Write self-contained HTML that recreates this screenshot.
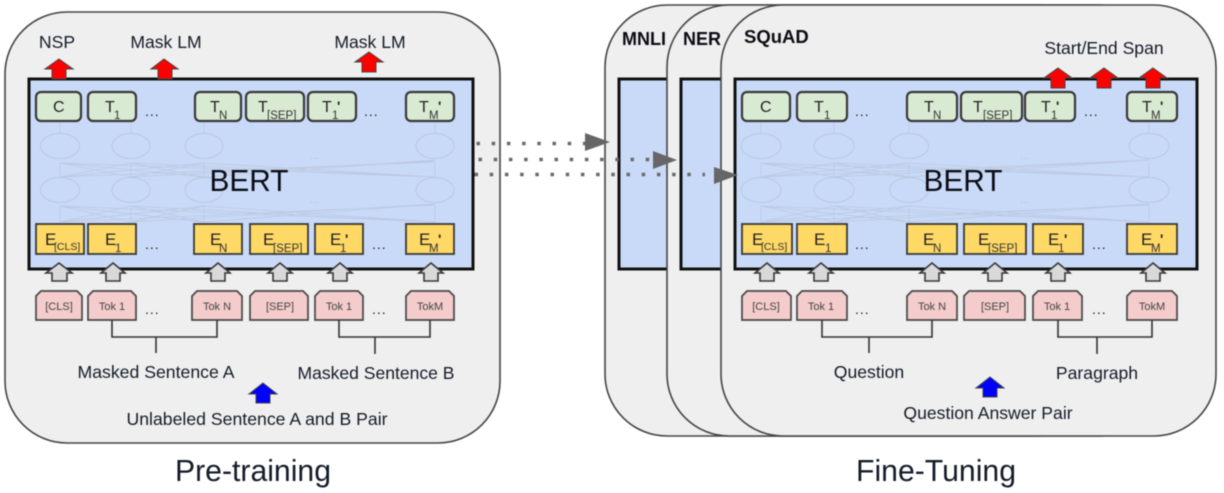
<!DOCTYPE html>
<html>
<head>
<meta charset="utf-8">
<style>
html,body{margin:0;padding:0;background:#fff;width:1224px;height:493px;overflow:hidden}
svg{display:block;filter:blur(0.55px)}
text{font-family:"Liberation Sans",sans-serif;fill:#141c28}
.l{font-size:17.6px;text-anchor:middle}
.t{font-size:16px;fill:#222}
.s{font-size:11.5px;fill:#333}
.e{font-size:17px;fill:#222}
.k{font-size:11px;fill:#444;text-anchor:middle}
.d{font-size:14px;fill:#222;letter-spacing:1px}
.q{font-size:14px;fill:#222;font-weight:bold}
.p{fill:#efefef;stroke:#444;stroke-width:1.6}
.b{fill:#c9daf8;stroke:#111;stroke-width:3}
.tb{fill:#d9ead3;stroke:#383838;stroke-width:2.2}
.eb{fill:#ffd966;stroke:#383838;stroke-width:1.8}
.tk{fill:#f4cccc;stroke:#484848;stroke-width:1.7}
.ga{fill:#d9d9d9;stroke:#383838;stroke-width:1.6}
.ra{fill:#f00;stroke:#444;stroke-width:1}
.ba{fill:#00f;stroke:#444;stroke-width:1}
.br{fill:none;stroke:#333;stroke-width:1.6}
.n ellipse{fill:none;stroke:#b9c6de;stroke-width:1}
.n path{fill:none;stroke:#bac7df;stroke-width:0.7}
.dots{fill:none;stroke:#6a6a6a;stroke-width:3.5;stroke-dasharray:3.5 11.7}
</style>
</head>
<body>
<svg width="1224" height="493" viewBox="0 0 1224 493" xmlns="http://www.w3.org/2000/svg">
<!-- Left panel -->
<rect class="p" x="5" y="12" width="495" height="431" rx="62" ry="62"/>
<rect class="b" x="29" y="79" width="444" height="190"/>
<g class="n">
<ellipse cx="60" cy="146" rx="19.5" ry="12.5"/><ellipse cx="131" cy="146" rx="19" ry="12.5"/><ellipse cx="204" cy="146" rx="19" ry="12.5"/><ellipse cx="435" cy="146" rx="19" ry="12.5"/>
<ellipse cx="60" cy="190" rx="19.5" ry="12.5"/><ellipse cx="131" cy="190" rx="19" ry="12.5"/><ellipse cx="204" cy="190" rx="19" ry="12.5"/><ellipse cx="435" cy="190" rx="19" ry="12.5"/>
<path d="M60 122V133M131 122V133M204 122V133M435 122V133M60 177V163M131 177V163M204 177V163M435 177V163M60 222V206M131 222V206M204 222V206M435 222V206"/>
<path d="M60 177L131 163M60 177L204 163M60 177L435 162M131 177L60 163M131 177L204 163M131 177L435 161M204 177L60 163M204 177L131 163M204 177L435 160M435 177L60 163M435 177L131 163M435 177L204 163"/>
<path d="M60 222L131 206M60 222L204 206M60 222L435 205M131 222L60 206M131 222L204 206M131 222L435 204M204 222L60 206M204 222L131 206M204 222L435 204M435 222L60 206M435 222L131 206M435 222L204 206"/>
</g>
<text x="310" y="159" style="font-size:11px;fill:#b4c1d8">...</text>
<text x="310" y="203" style="font-size:11px;fill:#b4c1d8">...</text>

<rect class="tb" x="36" y="92" width="45" height="29" rx="5"/>
<rect class="tb" x="88" y="92" width="48" height="29" rx="5"/>
<rect class="tb" x="195" y="92" width="46" height="29" rx="5"/>
<rect class="tb" x="246" y="92" width="58" height="29" rx="5"/>
<rect class="tb" x="308" y="92" width="48" height="29" rx="5"/>
<rect class="tb" x="406" y="92" width="48" height="29" rx="5"/>
<text class="t" x="53" y="112">C</text>
<text class="t" x="105" y="112">T</text><text class="s" x="114" y="119">1</text>
<text class="t" x="210" y="112">T</text><text class="s" x="219" y="119">N</text>
<text class="t" x="258" y="112">T</text><text class="s" x="267" y="119">[SEP]</text>
<text class="t" x="322" y="112">T</text><text class="s" x="332" y="119">1</text><text class="q" x="337" y="111">'</text>
<text class="t" x="419" y="112">T</text><text class="s" x="429" y="119">M</text><text class="q" x="438" y="111">'</text>
<text class="d" x="145" y="116">...</text>
<text class="d" x="364" y="116">...</text>

<rect class="eb" x="36" y="224" width="48" height="30"/>
<rect class="eb" x="88" y="224" width="48" height="30"/>
<rect class="eb" x="194" y="224" width="48" height="30"/>
<rect class="eb" x="250" y="224" width="58" height="30"/>
<rect class="eb" x="315" y="224" width="48" height="30"/>
<rect class="eb" x="406" y="224" width="48" height="30"/>
<text class="e" x="45" y="245">E</text><text class="s" x="54" y="250" style="font-size:10.5px">[CLS]</text>
<text class="e" x="105" y="245">E</text><text class="s" x="115" y="252">1</text>
<text class="e" x="210" y="245">E</text><text class="s" x="219" y="252">N</text>
<text class="e" x="263" y="245">E</text><text class="s" x="273" y="252">[SEP]</text>
<text class="e" x="330" y="245">E</text><text class="s" x="340" y="252">1</text><text class="q" x="345" y="244">'</text>
<text class="e" x="419" y="245">E</text><text class="s" x="429" y="252">M</text><text class="q" x="438" y="244">'</text>
<text class="d" x="145" y="249">...</text>
<text class="d" x="372" y="249">...</text>

<path class="ga" d="M59 263L72 273H67V281H52V273H46Z"/>
<path class="ga" d="M113 263L125 273H120V281H106V273H101Z"/>
<path class="ga" d="M218 263L230 273H225V281H211V273H206Z"/>
<path class="ga" d="M280 263L292 273H287V281H273V273H268Z"/>
<path class="ga" d="M340 263L352 273H347V281H333V273H328Z"/>
<path class="ga" d="M431 263L443 273H438V281H424V273H419Z"/>

<path class="tk" d="M41 291H77L82 296V320H36V296Z"/>
<path class="tk" d="M93 291H131L136 296V320H88V296Z"/>
<path class="tk" d="M197 291H237L242 296V320H192V296Z"/>
<path class="tk" d="M255 291H303L308 296V320H250V296Z"/>
<path class="tk" d="M320 291H358L363 296V320H315V296Z"/>
<path class="tk" d="M411 291H449L454 296V320H406V296Z"/>
<text class="k" x="59" y="310">[CLS]</text>
<text class="k" x="112" y="310">Tok 1</text>
<text class="k" x="217" y="310">Tok N</text>
<text class="k" x="280" y="310">[SEP]</text>
<text class="k" x="339" y="310">Tok 1</text>
<text class="k" x="430" y="310">TokM</text>
<text class="d" x="145" y="314">...</text>
<text class="d" x="372" y="314">...</text>

<path class="br" d="M112 320V337H217V320M156 337V353"/>
<path class="br" d="M339 320V337H430V320M375 337V354"/>

<text class="l" x="57" y="48">NSP</text>
<text class="l" x="166" y="48">Mask LM</text>
<text class="l" x="370" y="48">Mask LM</text>
<text class="l" x="156" y="378" textLength="157" lengthAdjust="spacingAndGlyphs">Masked Sentence A</text>
<text class="l" x="376" y="379" textLength="157" lengthAdjust="spacingAndGlyphs">Masked Sentence B</text>
<text class="l" x="257" y="425" textLength="261" lengthAdjust="spacingAndGlyphs">Unlabeled Sentence A and B Pair</text>
<text x="253" y="481" style="font-size:31px;text-anchor:middle" textLength="156" lengthAdjust="spacingAndGlyphs">Pre-training</text>
<text x="249" y="191" style="font-size:31px;text-anchor:middle;fill:#0c0c14" textLength="79" lengthAdjust="spacingAndGlyphs">BERT</text>

<path class="ra" d="M59 59L73 69H66V79H52V69H45Z"/>
<path class="ra" d="M164 59L178 69H172V79H158V69H151Z"/>
<path class="ra" d="M369 52L383 62H376V72H362V62H355Z"/>
<path class="ba" d="M263 383L277 394H270V403H256V394H249Z"/>

<!-- Right panels -->
<rect class="p" x="605" y="5" width="495" height="431" rx="62" ry="62"/>
<rect class="b" x="619" y="79" width="100" height="190"/>
<text x="622" y="45" style="font-size:18px;font-weight:bold;fill:#0c0c14">MNLI</text>
<rect class="p" x="667" y="5" width="495" height="431" rx="62" ry="62"/>
<rect class="b" x="681" y="79" width="100" height="190"/>
<text x="683" y="45" style="font-size:18px;font-weight:bold;fill:#0c0c14">NER</text>
<rect class="p" x="721" y="5" width="495" height="431" rx="62" ry="62"/>
<rect class="b" x="735" y="79" width="462" height="190"/>
<text x="744" y="43" style="font-size:18.5px;font-weight:bold;fill:#0c0c14">SQuAD</text>

<g class="n">
<ellipse cx="761" cy="146" rx="20" ry="12.5"/><ellipse cx="834" cy="146" rx="20" ry="12.5"/><ellipse cx="909" cy="146" rx="19.5" ry="12.5"/><ellipse cx="1149" cy="146" rx="20" ry="12.5"/>
<ellipse cx="761" cy="190" rx="20" ry="12.5"/><ellipse cx="834" cy="190" rx="20" ry="12.5"/><ellipse cx="909" cy="190" rx="19.5" ry="12.5"/><ellipse cx="1149" cy="190" rx="20" ry="12.5"/>
<path d="M761 122V133M834 122V133M909 122V133M1149 122V133M761 177V163M834 177V163M909 177V163M1149 177V163M761 222V206M834 222V206M909 222V206M1149 222V206"/>
<path d="M761 177L834 163M761 177L909 163M761 177L1149 160M834 177L761 163M834 177L909 163M834 177L1149 160M909 177L761 163M909 177L834 163M909 177L1149 160M1149 177L761 163M1149 177L834 163M1149 177L909 163"/>
<path d="M761 222L834 206M761 222L909 206M761 222L1149 205M834 222L761 206M834 222L909 206M834 222L1149 204M909 222L761 206M909 222L834 206M909 222L1149 204M1149 222L761 206M1149 222L834 206M1149 222L909 206"/>
</g>
<text x="1020" y="159" style="font-size:11px;fill:#b4c1d8">...</text>
<text x="1020" y="203" style="font-size:11px;fill:#b4c1d8">...</text>

<rect class="tb" x="742" y="92" width="48" height="29" rx="5"/>
<rect class="tb" x="797" y="92" width="50" height="29" rx="5"/>
<rect class="tb" x="907" y="92" width="50" height="29" rx="5"/>
<rect class="tb" x="961" y="92" width="61" height="29" rx="5"/>
<rect class="tb" x="1025" y="92" width="50" height="29" rx="5"/>
<rect class="tb" x="1127" y="92" width="50" height="29" rx="5"/>
<text class="t" x="760" y="112">C</text>
<text class="t" x="814" y="112">T</text><text class="s" x="824" y="119">1</text>
<text class="t" x="924" y="112">T</text><text class="s" x="933" y="119">N</text>
<text class="t" x="973" y="112">T</text><text class="s" x="983" y="119">[SEP]</text>
<text class="t" x="1041" y="112">T</text><text class="s" x="1051" y="119">1</text><text class="q" x="1056" y="111">'</text>
<text class="t" x="1142" y="112">T</text><text class="s" x="1151" y="119">M</text><text class="q" x="1160" y="111">'</text>
<text class="d" x="855" y="116">...</text>
<text class="d" x="1084" y="116">...</text>

<rect class="eb" x="742" y="224" width="50" height="30"/>
<rect class="eb" x="797" y="224" width="50" height="30"/>
<rect class="eb" x="907" y="224" width="50" height="30"/>
<rect class="eb" x="964" y="224" width="62" height="30"/>
<rect class="eb" x="1033" y="224" width="50" height="30"/>
<rect class="eb" x="1127" y="224" width="50" height="30"/>
<text class="e" x="752" y="245">E</text><text class="s" x="761" y="250" style="font-size:10.5px">[CLS]</text>
<text class="e" x="814" y="245">E</text><text class="s" x="825" y="252">1</text>
<text class="e" x="923" y="245">E</text><text class="s" x="933" y="252">N</text>
<text class="e" x="978" y="245">E</text><text class="s" x="988" y="252">[SEP]</text>
<text class="e" x="1048" y="245">E</text><text class="s" x="1058" y="252">1</text><text class="q" x="1064" y="244">'</text>
<text class="e" x="1141" y="245">E</text><text class="s" x="1151" y="252">M</text><text class="q" x="1160" y="244">'</text>
<text class="d" x="855" y="249">...</text>
<text class="d" x="1092" y="249">...</text>

<path class="ga" d="M767 263L779 273H774V281H760V273H755Z"/>
<path class="ga" d="M821 263L833 273H828V281H814V273H809Z"/>
<path class="ga" d="M932 263L944 273H939V281H925V273H920Z"/>
<path class="ga" d="M995 263L1007 273H1002V281H988V273H983Z"/>
<path class="ga" d="M1058 263L1070 273H1065V281H1051V273H1046Z"/>
<path class="ga" d="M1153 263L1165 273H1160V281H1146V273H1141Z"/>

<path class="tk" d="M747 291H786L791 296V320H742V296Z"/>
<path class="tk" d="M802 291H842L847 296V320H797V296Z"/>
<path class="tk" d="M912 291H952L957 296V320H907V296Z"/>
<path class="tk" d="M969 291H1020L1025 296V320H964V296Z"/>
<path class="tk" d="M1038 291H1077L1082 296V320H1033V296Z"/>
<path class="tk" d="M1132 291H1172L1177 296V320H1127V296Z"/>
<text class="k" x="766" y="310">[CLS]</text>
<text class="k" x="821" y="310">Tok 1</text>
<text class="k" x="932" y="310">Tok N</text>
<text class="k" x="995" y="310">[SEP]</text>
<text class="k" x="1057" y="310">Tok 1</text>
<text class="k" x="1152" y="310">TokM</text>
<text class="d" x="855" y="314">...</text>
<text class="d" x="1092" y="314">...</text>

<path class="br" d="M822 320V337H932V320M869 337V353"/>
<path class="br" d="M1058 320V337H1152V320M1097 337V354"/>

<text class="l" x="1104" y="54">Start/End Span</text>
<text class="l" x="869" y="378">Question</text>
<text class="l" x="1097" y="379">Paragraph</text>
<text class="l" x="988" y="419">Question Answer Pair</text>
<text x="936" y="481" style="font-size:31px;text-anchor:middle" textLength="160" lengthAdjust="spacingAndGlyphs">Fine-Tuning</text>
<text x="963" y="191" style="font-size:31px;text-anchor:middle;fill:#0c0c14" textLength="79" lengthAdjust="spacingAndGlyphs">BERT</text>

<path class="ra" d="M1058 68L1072 78H1065V88H1051V78H1044Z"/>
<path class="ra" d="M1104 68L1118 78H1111V88H1097V78H1090Z"/>
<path class="ra" d="M1153 68L1167 78H1160V88H1146V78H1139Z"/>
<path class="ba" d="M990 377L1004 388H997V397H983V388H976Z"/>

<!-- Dotted arrows -->
<path class="dots" d="M476.5 143.5H586"/>
<path class="dots" d="M478.5 159.5H656"/>
<path class="dots" d="M474.5 174.5H705"/>
<path d="M585 133L610 142L585 151Z" fill="#666"/>
<path d="M653 151L677 160L653 169Z" fill="#666"/>
<path d="M714 167L738 175L714 184Z" fill="#666"/>
</svg>
</body>
</html>
